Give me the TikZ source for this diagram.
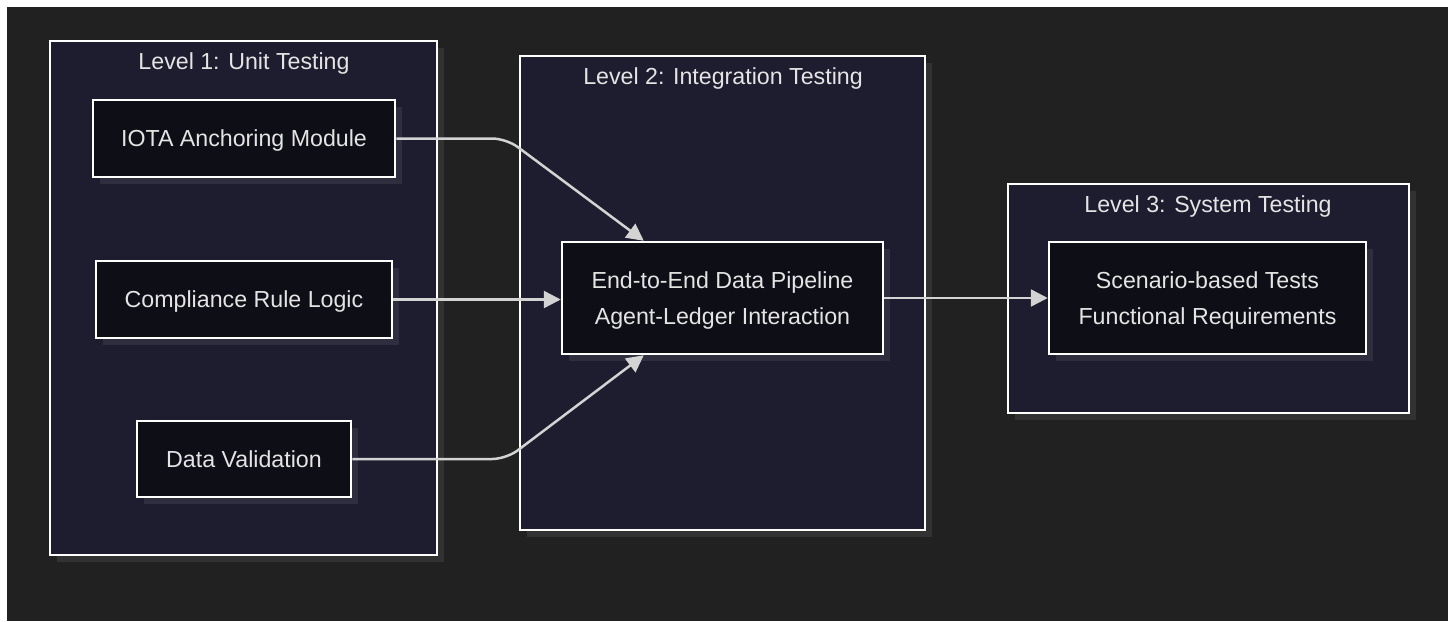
\documentclass[tikz,border=0pt]{standalone}
\usepackage{fontspec}
\setmainfont{Liberation Sans}
\usetikzlibrary{arrows.meta,calc,shadows}
\definecolor{pagebg}{HTML}{212121}
\definecolor{clusterbg}{HTML}{1E1D2F}
\definecolor{nodebg}{HTML}{0E0E16}
\definecolor{linkgray}{HTML}{D3D3D3}
\definecolor{textgray}{HTML}{E4E4E4}

\begin{document}
\begin{tikzpicture}[x=1pt,y=-1pt]
\tikzset{shade box/.style = {drop shadow={shadow xshift=7pt, shadow yshift=-7pt, fill=white, opacity=0.08}}}
\tikzset{cluster/.style = {shape=rectangle, draw=white, line width=2pt, fill=clusterbg, shade box}}
\tikzset{box/.style = {shape=rectangle, draw=white, line width=2.5pt, fill=nodebg, text=textgray, align=center, text depth=0pt, font=\fontsize{23.2}{36}\selectfont, shade box}}
\tikzset{title/.style = {text=textgray, anchor=base, inner sep=0pt, font=\fontsize{23.2}{28}\selectfont}}
\tikzset{edge/.style = {-{Triangle[length=17pt,width=17pt]}, draw=linkgray, line width=2.5pt}}
% page
\fill[white] (0,0) rectangle (1448,621);
\fill[pagebg] (7,7) rectangle (1448,621);
\useasboundingbox (0,0) rectangle (1448,621);
% clusters
\node[cluster, minimum width=387pt, minimum height=514pt] (lvl1) at (243.5,298) {};
\node[cluster, minimum width=405pt, minimum height=474pt] (lvl2) at (722.5,293) {};
\node[cluster, minimum width=401pt, minimum height=229pt] (lvl3) at (1208.5,298.5) {};
\node[title] (t1) at (244,69) {Level 1: Unit Testing};
\node[title] (t2) at (723,84) {Level 2: Integration Testing};
\node[title] (t3) at (1208,212) {Level 3: System Testing};
% tests
\node[box, minimum width=302pt, minimum height=77pt] (iota) at (244,138.5) {IOTA Anchoring Module};
\node[box, minimum width=296pt, minimum height=77pt] (comp) at (244,299.5) {Compliance Rule Logic};
\node[box, minimum width=214pt, minimum height=76pt] (dv) at (244,459) {Data Validation};
\node[box, minimum width=321pt, minimum height=112pt] (e2e) at (722.5,298) {End-to-End Data Pipeline\\Agent-Ledger Interaction};
\node[box, minimum width=317pt, minimum height=112pt] (scen) at (1207.5,298) {Scenario-based Tests\\Functional Requirements};
% edges
\draw[edge, rounded corners=14pt] (iota.east) -- ++(110,0) -- ($(e2e.north west)+(83,0)$);
\draw[edge] (comp.east) -- (comp.east -| e2e.west);
\draw[edge, rounded corners=14pt] (dv.east) -- ++(154,0) -- ($(e2e.south west)+(83,0)$);
\draw[edge] (e2e.east) -- (scen.west);
\end{tikzpicture}
\end{document}
